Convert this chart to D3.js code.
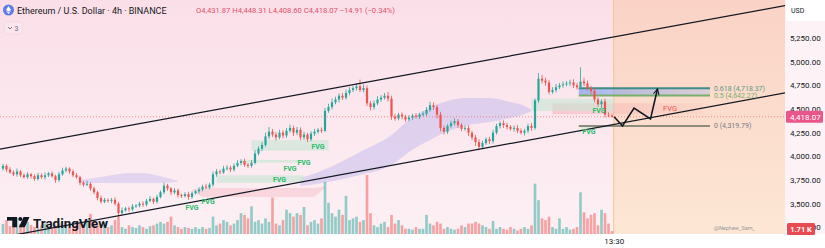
<!DOCTYPE html>
<html>
<head>
<meta charset="utf-8">
<script src="https://cdn.jsdelivr.net/npm/d3@7"></script>
<style>
  body { margin: 0; background: #fff; }
  svg { display: block; font-family: Roboto, "Liberation Sans", sans-serif; }
</style>
</head>
<body>
<div id="chart"></div>
<script>
// ETH/USD 4h candles (open = previous close)
var firstOpen = 3870;
var closes = [
  3900,3860,3830,3810,3840,3800,3780,3810,3790,3760,
  3800,3780,3800,3820,3790,3750,3810,3850,3870,3840,
  3800,3780,3720,3700,3710,3660,3620,3560,3520,3540,
  3530,3540,3500,3400,3430,3450,3440,3470,3480,3500,
  3490,3530,3550,3520,3570,3620,3690,3660,3620,3640,
  3590,3580,3600,3570,3610,3630,3650,3680,3670,3700,
  3810,3840,3830,3870,3880,3860,3900,3930,3950,3910,
  3900,3930,4030,4080,4120,4210,4260,4230,4200,4250,
  4220,4270,4300,4250,4280,4200,4230,4180,4240,4260,
  4280,4270,4480,4520,4570,4600,4640,4620,4670,4700,
  4720,4740,4700,4720,4560,4520,4560,4600,4620,4640,
  4610,4420,4400,4440,4420,4390,4410,4430,4420,4440,
  4450,4490,4540,4520,4440,4300,4260,4320,4350,4370,
  4330,4290,4300,4250,4200,4150,4100,4140,4180,4160,
  4250,4320,4350,4330,4310,4290,4300,4270,4250,4270,
  4320,4300,4590,4820,4800,4780,4680,4700,4730,4750,
  4760,4770,4780,4750,4730,4790,4770,4720,4690,4600,
  4550,4580,4440,4431.87,4418.07
];
// wick lengths above / below the body, in dollars
var wickUp = [
  20,15,25,20,30,15,20,25,15,20,
  25,20,30,15,20,15,25,30,20,15,
  20,25,15,20,30,15,20,15,25,20,
  15,20,25,20,30,15,20,25,15,20,
  25,20,30,15,25,20,30,20,15,25,
  20,15,20,25,20,15,25,20,30,20,
  30,25,20,30,25,20,25,30,20,25,
  20,30,35,25,30,40,50,30,25,30,
  25,30,35,25,30,25,30,20,25,30,
  20,25,30,35,40,30,25,30,35,30,
  25,30,70,40,30,25,30,35,25,30,
  40,30,25,20,25,20,25,20,25,20,
  25,30,35,30,25,30,25,20,25,30,
  25,20,25,30,20,25,30,25,20,25,
  30,25,20,30,25,20,25,30,25,20,
  25,30,20,60,40,30,25,30,35,25,
  30,25,30,35,25,150,40,30,25,30,
  25,20,30,25,16.44
];
var wickDown = [
  20,25,15,20,25,20,15,20,25,20,
  15,20,25,20,15,30,20,15,20,25,
  20,15,25,20,15,25,20,25,20,15,
  20,25,20,40,20,15,25,20,15,20,
  25,20,15,25,20,15,20,25,30,20,
  25,20,15,30,20,15,25,20,15,20,
  20,25,20,15,20,25,20,15,25,20,
  25,20,15,20,25,20,30,25,35,20,
  30,25,20,35,25,30,25,30,20,25,
  20,25,15,20,25,20,30,25,20,25,
  20,25,20,25,30,35,25,20,25,20,
  30,35,25,20,30,25,20,25,20,25,
  20,25,20,30,40,35,30,25,20,25,
  30,25,20,35,30,40,35,25,20,30,
  25,20,25,30,25,20,30,25,20,30,
  25,30,20,25,30,35,25,20,25,20,
  25,20,25,30,25,20,30,25,35,30,
  25,40,30,20,9.47
];
// volume in thousands
var volumes = [
  5.8,8.1,4.6,7,9.3,5.8,4.6,7,5.2,4,
  3.5,5,6,4,3,5,6,4.5,5,3.5,
  4,5,6,5,8,11.6,7,5,6,7,
  4,5,8,10,4,3,5,4,3.5,5,
  4,3,4.5,5,6,7,6,7,10,5,
  4,3,4,3.5,3,4,3,4,3,3.5,
  10,5,6,8,7,5,6,8,12,11,
  9,16,7,8,6,9,7,21,6,5,
  8,14,12,10,12,11,15.6,5,7,8,
  6,9,30,18,12,10,14,11,22,8,
  9,10,7,8,34,12,5,4,6,7,
  4,11,6,8,5,3,3,2.5,4,3,
  3,11,6,5,7,6,3,4,3,2.5,
  3,5,4,6,6,7,6,5,4,3,
  7.5,3,4,3,2.5,4,3,2,3,4,
  3,5,29,19.5,9,8,10,4,3,9,
  3,4,2.5,3,4,24,12.5,9,11,12,
  5,14,12,6,1.71
];

var priceTicks = [3250, 3500, 3750, 4000, 4250, 4500, 4750, 5000, 5250];
var timeTickIdx = [174.5];
var timeTickLabels = ["13:30"];
var futureStart = 174.5;
var lastPrice = 4418.07;
var lastChange = "\u221214.91 (\u22120.34%)";
var lastVolumeLabel = "1.71 K";

// channel drawn on the chart (bar index, price)
var channelUpper = [[-1, 4075], [224, 5595]];
var channelLower = [[-1, 3140], [224, 4675]];

// cloud bands (bar index, top, bottom)
var cloudAIdx = [22, 28, 36, 40, 46, 50];
var cloudATop = [3750, 3781, 3824, 3824, 3781, 3740];
var cloudABot = [3718, 3718, 3718, 3718, 3718, 3730];
var cloudBIdx = [54, 58, 88, 92];
var cloudBTop = [3650, 3665, 3665, 3680];
var cloudBBot = [3640, 3570, 3570, 3670];
var cloudCIdx = [85, 93, 102, 111, 116, 122, 128, 133, 139, 145, 149, 151];
var cloudCTop = [3771, 3877, 4046, 4225, 4384, 4510, 4595, 4616, 4616, 4574, 4532, 4490];
var cloudCBot = [3686, 3729, 3803, 3908, 4046, 4172, 4278, 4330, 4362, 4405, 4447, 4480];

// fair value gaps: [start idx, end idx, top, bottom]
var fvgBull = [
  [71, 93, 4172, 4060],
  [68, 86, 3962, 3932],
  [61, 86, 3800, 3720],
  [151, 174.5, 4610, 4480],
  [165, 172, 4330, 4295]
];
var fvgBear = [[157, 200, 4560, 4445]];
var fvgBullLabels = [[90, 4098], [86, 3929], [82, 3866], [79, 3750], [58.6, 3517], [54, 3454], [170.3, 4479], [167.4, 4257]];
var fvgBearLabels = [[190.6, 4510]];

// fibonacci retracement
var fibLevels = ["0.618", "0.5", "0"];
var fibPrices = [4718.37, 4642.27, 4319.79];
var fibStart = 164.5, fibEnd = 202;

// projected path
var projIdx = [174.6, 177, 180.3, 185, 187];
var projPrice = [4418, 4320, 4510, 4395, 4712];

var svgWidth = 825, svgHeight = 248;
var plotRight = 785, plotBottom = 234;

var candles = closes.map(function(c, i) {
  var o = i === 0 ? firstOpen : closes[i - 1];
  return {
    i: i, o: o, c: c,
    h: Math.max(o, c) + wickUp[i],
    l: Math.min(o, c) - wickDown[i],
    v: volumes[i]
  };
});

var x = d3.scaleLinear().domain([0, 174]).range([3, 612]);
var y = d3.scaleLinear().domain([3250, 5250]).range([227.3, 38]);
var vh = d3.scaleLinear().domain([0, 34]).range([0, 59]);

var upColor = "#26a69a", downColor = "#ef5350";

var svg = d3.select("#chart").append("svg")
  .attr("width", svgWidth)
  .attr("height", svgHeight);

var defs = svg.append("defs");
var bg = defs.append("linearGradient").attr("id", "bgGrad").attr("x1", 0).attr("y1", 0).attr("x2", 0).attr("y2", 1);
bg.append("stop").attr("offset", "0%").attr("stop-color", "#fbdfe8");
bg.append("stop").attr("offset", "100%").attr("stop-color", "#fcf0f4");
var fut = defs.append("linearGradient").attr("id", "futGrad").attr("x1", 0).attr("y1", 0).attr("x2", 0).attr("y2", 1);
fut.append("stop").attr("offset", "0%").attr("stop-color", "#fad3c6");
fut.append("stop").attr("offset", "100%").attr("stop-color", "#fde7d4");
var fibG = defs.append("linearGradient").attr("id", "fibGrad").attr("x1", 0).attr("y1", 0).attr("x2", 1).attr("y2", 0);
fibG.append("stop").attr("offset", "0%").attr("stop-color", "#5b8de8").attr("stop-opacity", 0.55);
fibG.append("stop").attr("offset", "100%").attr("stop-color", "#9db8ec").attr("stop-opacity", 0.35);
var bearG = defs.append("linearGradient").attr("id", "bearGrad").attr("x1", 0).attr("y1", 0).attr("x2", 1).attr("y2", 0);
bearG.append("stop").attr("offset", "0%").attr("stop-color", "#f28b95").attr("stop-opacity", 0.35);
bearG.append("stop").attr("offset", "100%").attr("stop-color", "#f28b95").attr("stop-opacity", 0.08);
defs.append("clipPath").attr("id", "plotClip")
  .append("rect").attr("x", 0).attr("y", 0).attr("width", plotRight).attr("height", plotBottom);
defs.append("marker")
  .attr("id", "arrow").attr("viewBox", "0 0 10 10")
  .attr("refX", 9).attr("refY", 5)
  .attr("markerWidth", 7).attr("markerHeight", 7)
  .attr("markerUnits", "userSpaceOnUse")
  .attr("orient", "auto")
  .append("path").attr("d", "M1,1 L9,5 L1,9")
  .attr("fill", "none").attr("stroke", "#131722").attr("stroke-width", 1.6);

// backgrounds
svg.append("rect").attr("width", svgWidth).attr("height", svgHeight).attr("fill", "#fff");
svg.append("rect").attr("width", plotRight).attr("height", plotBottom).attr("fill", "url(#bgGrad)");
svg.append("rect")
  .attr("x", x(futureStart)).attr("y", 0)
  .attr("width", plotRight - x(futureStart)).attr("height", plotBottom)
  .attr("fill", "url(#futGrad)");
svg.append("line")
  .attr("x1", x(futureStart)).attr("x2", x(futureStart))
  .attr("y1", 0).attr("y2", plotBottom)
  .attr("stroke", "#f6c28f").attr("stroke-width", 1);
svg.append("rect").attr("x", plotRight).attr("y", 0).attr("width", svgWidth - plotRight).attr("height", plotBottom).attr("fill", "#fdf3f7");

var plot = svg.append("g").attr("clip-path", "url(#plotClip)");

// clouds
function band(idx, top, bot) {
  return d3.area()
    .x(function(d, k) { return x(idx[k]); })
    .y0(function(d, k) { return y(bot[k]); })
    .y1(function(d, k) { return y(top[k]); })
    .curve(d3.curveMonotoneX)(idx);
}
plot.append("path").attr("d", band(cloudAIdx, cloudATop, cloudABot)).attr("fill", "#b4acee").attr("opacity", 0.35);
plot.append("path").attr("d", band(cloudBIdx, cloudBTop, cloudBBot)).attr("fill", "#f2a3b0").attr("opacity", 0.3);
plot.append("path").attr("d", band(cloudCIdx, cloudCTop, cloudCBot)).attr("fill", "#b4acee").attr("opacity", 0.4);

// fair value gaps
plot.selectAll(".fvgBear").data(fvgBear).enter().append("rect")
  .attr("x", function(d) { return x(d[0]); })
  .attr("width", function(d) { return x(d[1]) - x(d[0]); })
  .attr("y", function(d) { return y(d[2]); })
  .attr("height", function(d) { return y(d[3]) - y(d[2]); })
  .attr("fill", "url(#bearGrad)");
plot.selectAll(".fvgBull").data(fvgBull).enter().append("rect")
  .attr("x", function(d) { return x(d[0]); })
  .attr("width", function(d) { return x(d[1]) - x(d[0]); })
  .attr("y", function(d) { return y(d[2]); })
  .attr("height", function(d) { return y(d[3]) - y(d[2]); })
  .attr("fill", "#c6e6d3").attr("opacity", 0.6);

// fib zone
plot.append("rect")
  .attr("x", x(fibStart)).attr("width", x(fibEnd) - x(fibStart))
  .attr("y", y(fibPrices[0])).attr("height", y(fibPrices[1]) - y(fibPrices[0]))
  .attr("fill", "url(#fibGrad)");
var fibColors = ["#3f8c86", "#7aae6c", "#8e8c7c"];
plot.selectAll(".fibLine").data(fibPrices).enter().append("line")
  .attr("x1", x(fibStart)).attr("x2", x(fibEnd))
  .attr("y1", function(d) { return y(d); }).attr("y2", function(d) { return y(d); })
  .attr("stroke", function(d, k) { return fibColors[k]; })
  .attr("stroke-width", 2);

// volume
plot.selectAll(".vol").data(candles).enter().append("rect")
  .attr("x", function(d) { return x(d.i) - 1.3; })
  .attr("width", 2.6)
  .attr("y", function(d) { return plotBottom - vh(d.v); })
  .attr("height", function(d) { return vh(d.v); })
  .attr("fill", function(d) { return d.c >= d.o ? upColor : downColor; })
  .attr("opacity", 0.5);

// candles
var cg = plot.selectAll(".candle").data(candles).enter().append("g");
cg.append("line")
  .attr("x1", function(d) { return x(d.i); }).attr("x2", function(d) { return x(d.i); })
  .attr("y1", function(d) { return y(d.h); }).attr("y2", function(d) { return y(d.l); })
  .attr("stroke", function(d) { return d.c >= d.o ? upColor : downColor; })
  .attr("stroke-width", 0.8);
cg.append("rect")
  .attr("x", function(d) { return x(d.i) - 1.1; })
  .attr("width", 2.2)
  .attr("y", function(d) { return y(Math.max(d.o, d.c)); })
  .attr("height", function(d) { return Math.max(0.8, Math.abs(y(d.o) - y(d.c))); })
  .attr("fill", function(d) { return d.c >= d.o ? upColor : downColor; });

// last price line
plot.append("line")
  .attr("x1", 0).attr("x2", plotRight)
  .attr("y1", y(lastPrice)).attr("y2", y(lastPrice))
  .attr("stroke", "#ef5350").attr("stroke-width", 1)
  .attr("stroke-dasharray", "1,2").attr("opacity", 0.6);

// channel
var lineGen = d3.line().x(function(d) { return x(d[0]); }).y(function(d) { return y(d[1]); });
[channelUpper, channelLower].forEach(function(ch) {
  plot.append("path").attr("d", lineGen(ch))
    .attr("fill", "none").attr("stroke", "#131722").attr("stroke-width", 1.2);
});

// projection
plot.append("path")
  .attr("d", d3.line()(projIdx.map(function(v, k) { return [x(v), y(projPrice[k])]; })))
  .attr("fill", "none").attr("stroke", "#131722").attr("stroke-width", 1.6)
  .attr("stroke-linejoin", "miter")
  .attr("marker-end", "url(#arrow)");

// labels on the plot
plot.selectAll(".fvgLbl").data(fvgBullLabels).enter().append("text")
  .attr("x", function(d) { return x(d[0]); })
  .attr("y", function(d) { return y(d[1]); })
  .attr("dy", "0.35em").attr("text-anchor", "middle")
  .attr("font-size", "7px").attr("font-weight", "bold")
  .attr("fill", "#2dbb6c")
  .text("FVG");
plot.selectAll(".fvgLblB").data(fvgBearLabels).enter().append("text")
  .attr("x", function(d) { return x(d[0]); })
  .attr("y", function(d) { return y(d[1]); })
  .attr("dy", "0.35em").attr("text-anchor", "middle")
  .attr("font-size", "7.5px")
  .attr("fill", "#ef5350")
  .text("FVG");
var fibTextColors = ["#5a9a86", "#7aae6c", "#787b86"];
plot.selectAll(".fibLbl").data(fibPrices).enter().append("text")
  .attr("x", x(fibEnd) + 4)
  .attr("y", function(d) { return y(d); })
  .attr("dy", "0.35em")
  .attr("font-size", "7px")
  .attr("fill", function(d, k) { return fibTextColors[k]; })
  .text(function(d, k) { return fibLevels[k] + " (" + d3.format(",.2f")(d) + ")"; });

// header
svg.append("circle").attr("cx", 8.5).attr("cy", 10).attr("r", 5.5).attr("fill", "#5f7be6");
svg.append("path").attr("d", "M8.5,6 L11,10 L8.5,11.6 L6,10 Z M8.5,12.3 L11,10.8 L8.5,14 L6,10.8 Z").attr("fill", "#fff");
svg.append("text").attr("x", 17).attr("y", 13.5)
  .attr("font-size", "9px").attr("fill", "#131722")
  .text("Ethereum / U.S. Dollar · 4h · BINANCE");
var last = candles[candles.length - 1];
var fmt = d3.format(",.2f");
svg.append("text").attr("x", 196).attr("y", 13.3)
  .attr("font-size", "7.6px").attr("fill", "#e0506a")
  .text("O" + fmt(last.o) + "  H" + fmt(last.h) + "  L" + fmt(last.l) + "  C" + fmt(last.c) + "  " + lastChange);
svg.append("rect").attr("x", 4).attr("y", 22).attr("width", 18).attr("height", 12).attr("rx", 2)
  .attr("fill", "#fbe6ed").attr("stroke", "#ecd3db").attr("stroke-width", 0.6);
svg.append("path").attr("d", "M8,27 L10,29 L12,27").attr("fill", "none").attr("stroke", "#6a6d78").attr("stroke-width", 0.9);
svg.append("text").attr("x", 14.5).attr("y", 31).attr("font-size", "7px").attr("fill", "#6a6d78").text("3");

// TradingView logo
var logo = svg.append("g").attr("fill", "#131722");
logo.append("rect").attr("x", 7).attr("y", 217).attr("width", 10).attr("height", 3.6);
logo.append("rect").attr("x", 12.3).attr("y", 217).attr("width", 4.7).attr("height", 10.3);
logo.append("circle").attr("cx", 20.3).attr("cy", 219).attr("r", 2);
logo.append("path").attr("d", "M23.5,217 L29.5,217 L24.8,227.3 L18.8,227.3 Z");
logo.append("text").attr("x", 33).attr("y", 228)
  .attr("font-size", "13.5px").attr("font-weight", "bold")
  .attr("textLength", 75).attr("lengthAdjust", "spacingAndGlyphs")
  .text("TradingView");

svg.append("text").attr("x", 714).attr("y", 229.5)
  .attr("font-size", "5.5px").attr("fill", "#9a9aa0")
  .text("@Nephew_Sam_");

// price axis
var yAxis = d3.axisRight(y).tickValues(priceTicks).tickFormat(d3.format(",.2f")).tickSize(0).tickPadding(5);
var ya = svg.append("g").attr("transform", "translate(" + plotRight + ",0)").call(yAxis);
ya.select(".domain").remove();
ya.selectAll("text").attr("font-size", "8px").attr("fill", "#131722").attr("font-family", "Roboto, sans-serif");

svg.append("rect").attr("x", 786).attr("y", 0).attr("width", 39).attr("height", 21).attr("fill", "#fff");
svg.append("text").attr("x", 791).attr("y", 13).attr("font-size", "7px").attr("fill", "#131722").text("USD");

svg.append("rect").attr("x", 786).attr("y", y(lastPrice) - 6).attr("width", 37).attr("height", 12).attr("rx", 1.5).attr("fill", "#e9568a");
svg.append("text").attr("x", 790).attr("y", y(lastPrice)).attr("dy", "0.35em")
  .attr("font-size", "8px").attr("fill", "#fff").text(fmt(lastPrice));

svg.append("rect").attr("x", 787).attr("y", 223).attr("width", 28).attr("height", 12).attr("rx", 1.5).attr("fill", "#e84a4f");
svg.append("text").attr("x", 801).attr("y", 229).attr("dy", "0.35em").attr("text-anchor", "middle")
  .attr("font-size", "7.5px").attr("font-weight", "bold").attr("fill", "#fff").text(lastVolumeLabel);

// time axis
var xAxis = d3.axisBottom(x).tickValues(timeTickIdx).tickFormat(function(d, k) { return timeTickLabels[k]; }).tickSize(0).tickPadding(4);
var xa = svg.append("g").attr("transform", "translate(0," + plotBottom + ")").call(xAxis);
xa.select(".domain").remove();
xa.selectAll("text").attr("font-size", "8px").attr("fill", "#131722").attr("font-family", "Roboto, sans-serif");
</script>
</body>
</html>
